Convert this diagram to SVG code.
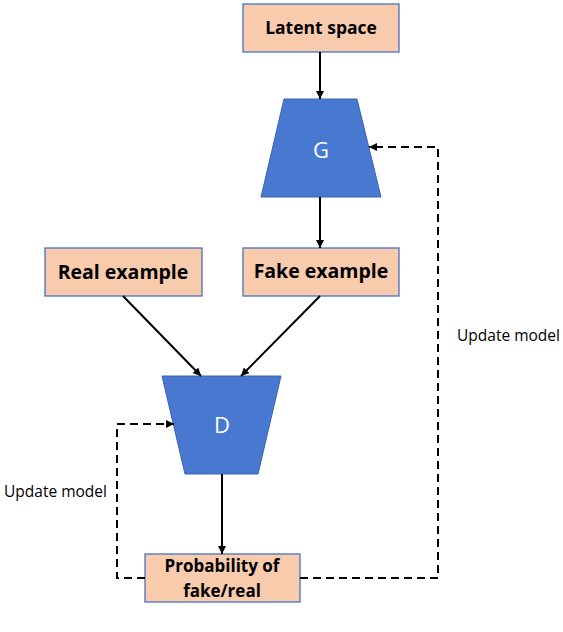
<svg xmlns="http://www.w3.org/2000/svg" width="563" height="632" viewBox="0 0 563 632">
<defs>
<marker id="ah" viewBox="0 0 10 10" refX="10" refY="5" markerWidth="8" markerHeight="8" markerUnits="userSpaceOnUse" orient="auto">
<path d="M0,0 L10,5 L0,10 z" fill="#000"/>
</marker>
</defs>
<style>
.box{fill:#F8CBAD;stroke:#4472C4;stroke-width:1.3}
.trap{fill:#4878CF;stroke:#3A64AE;stroke-width:1}
.lbl{font-family:"Open Sans","Liberation Sans",sans-serif;font-weight:bold;fill:#000;text-anchor:middle}
.tl{font-family:"Open Sans","Liberation Sans",sans-serif;fill:#fff;font-size:22px;text-anchor:middle}
.note{font-family:"Open Sans","Liberation Sans",sans-serif;fill:#000;font-size:15.5px}
.ln{stroke:#000;stroke-width:2;fill:none}
.dash{stroke:#000;stroke-width:2;fill:none;stroke-dasharray:8,5}
</style>
<rect width="563" height="632" fill="#fff"/>
<g id="latent">
<rect class="box" x="243" y="4" width="156" height="48"/>
<text class="lbl" x="321" y="34" font-size="17.5">Latent space</text>
</g>
<g id="G">
<polygon class="trap" points="284,99 357,99 381,197 261,197"/>
<text class="tl" x="321" y="158">G</text>
</g>
<g id="real">
<rect class="box" x="45" y="248" width="157" height="48"/>
<text class="lbl" x="123" y="279" font-size="19.5">Real example</text>
</g>
<g id="fake">
<rect class="box" x="243" y="248" width="156" height="48"/>
<text class="lbl" x="321" y="278" font-size="19.5">Fake example</text>
</g>
<g id="D">
<polygon class="trap" points="162,376 281,376 258,474 185,474"/>
<text class="tl" x="222" y="433">D</text>
</g>
<g id="prob">
<rect class="box" x="145" y="554" width="155" height="48"/>
<text class="lbl" x="222" y="572" font-size="17">Probability of</text>
<text class="lbl" x="222" y="597" font-size="17">fake/real</text>
</g>
<g id="labels">
<text class="note" x="457" y="341">Update model</text>
<text class="note" x="4" y="497">Update model</text>
</g>
<g id="connectors">
<line class="ln" x1="320" y1="52" x2="320" y2="99" marker-end="url(#ah)"/>
<line class="ln" x1="320" y1="197" x2="320" y2="248" marker-end="url(#ah)"/>
<line class="ln" x1="123" y1="296" x2="201" y2="376" marker-end="url(#ah)"/>
<line class="ln" x1="320" y1="296" x2="241" y2="376" marker-end="url(#ah)"/>
<line class="ln" x1="222" y1="474" x2="222" y2="554" marker-end="url(#ah)"/>
<polyline class="dash" points="300,578 438,578 438,147 369,147" marker-end="url(#ah)"/>
<polyline class="dash" points="145,578 117,578 117,424 174,424" marker-end="url(#ah)"/>
</g>
</svg>
